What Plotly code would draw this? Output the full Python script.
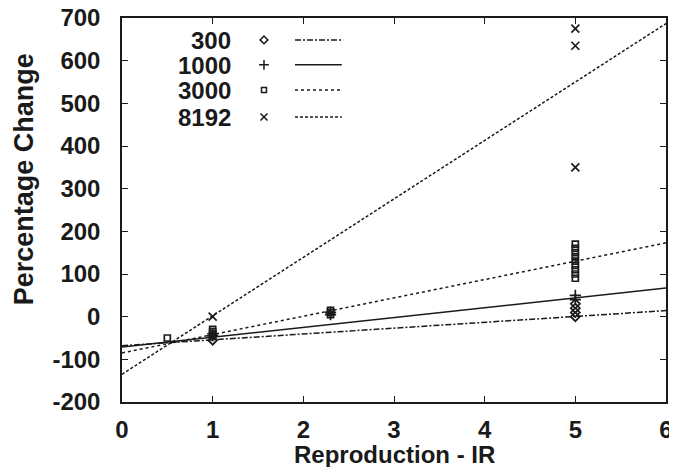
import numpy as np
import plotly.graph_objects as go

# ---- data ----
series_names = ["300", "1000", "3000", "8192"]

x_300 = [1, 5, 5, 5, 5]
y_300 = [-55, 30, 20, 10, 0]

x_1000 = [1, 1, 2.3, 2.3, 5, 5]
y_1000 = [-45, -40, 5, 10, 50, 40]

x_3000 = [0.5, 1, 1, 1, 1, 2.3, 2.3, 2.3, 5, 5, 5, 5, 5, 5, 5, 5, 5]
y_3000 = [-50, -30, -35, -40, -45, 5, 10, 15, 170, 160, 150, 140, 130, 120, 110, 100, 90]

x_8192 = [1, 5, 5, 5]
y_8192 = [0, 675, 635, 350]

fit_intercept = [-68, -71, -85, -135]
fit_slope = [13.7, 23, 43, 137]

x_ticks = [0, 1, 2, 3, 4, 5, 6]
y_ticks = [-200, -100, 0, 100, 200, 300, 400, 500, 600, 700]

# ---- styles ----
FONT = "Liberation Sans"
INK = "#1a1a1a"
symbols = ["diamond-open", "cross-thin-open", "square-open", "x-thin-open"]
msizes = [7, 8, 6, 8]
dashes = ["6px,2px,2px,2px", "solid", "3px,3px", "3px,2px"]

xs = [x_300, x_1000, x_3000, x_8192]
ys = [y_300, y_1000, y_3000, y_8192]

fig = go.Figure()
line_x = np.array([0.0, 6.0])
for i in range(4):
    fig.add_trace(go.Scatter(
        x=line_x, y=fit_intercept[i] + fit_slope[i] * line_x,
        mode="lines", line=dict(color=INK, width=1.5, dash=dashes[i]),
        showlegend=False, hoverinfo="skip"))
for i in range(4):
    fig.add_trace(go.Scatter(
        x=xs[i], y=ys[i], mode="markers",
        marker=dict(symbol=symbols[i], size=msizes[i], color=INK,
                    line=dict(color=INK, width=1.7)),
        name=series_names[i], showlegend=False))

# ---- custom legend (text, symbol, line sample) on an overlay axis ----
leg_rows = [0.943, 0.878, 0.8125, 0.742]
for i in range(4):
    fig.add_trace(go.Scatter(
        x=[0.261], y=[leg_rows[i]], xaxis="x2", yaxis="y2", mode="markers",
        marker=dict(symbol=symbols[i], size=msizes[i] - 1, color=INK,
                    line=dict(color=INK, width=1.5)),
        showlegend=False, hoverinfo="skip"))
    fig.add_trace(go.Scatter(
        x=[0.318, 0.404], y=[leg_rows[i], leg_rows[i]], xaxis="x2", yaxis="y2",
        mode="lines", line=dict(color=INK, width=1.5, dash=dashes[i]),
        showlegend=False, hoverinfo="skip"))
    fig.add_annotation(
        x=0.204, y=leg_rows[i], xref="x2", yref="y2", text=series_names[i],
        showarrow=False, xanchor="right", yanchor="middle", height=24,
        font=dict(family=FONT, size=24, color=INK, weight="bold"))

# axis titles
fig.add_annotation(
    x=0.5, y=-0.135, xref="paper", yref="paper", text="Reproduction - IR",
    showarrow=False, xanchor="center", yanchor="middle", height=26,
    font=dict(family=FONT, size=24, color=INK, weight="bold"))
fig.add_annotation(
    x=-0.18, y=0.58, xref="paper", yref="paper", text="Percentage Change",
    showarrow=False, xanchor="center", yanchor="middle", textangle=-90,
    font=dict(family=FONT, size=27, color=INK, weight="bold"))

# the page body adds an 8 px offset, so the figure is sized to end at the window edge
fig.update_layout(
    width=669, height=459,
    margin=dict(l=114, r=11, t=10, b=65, autoexpand=False),
    paper_bgcolor="white", plot_bgcolor="white",
    font=dict(family=FONT, color=INK),
    xaxis=dict(range=[0, 6], tickvals=x_ticks, ticktext=[str(v) for v in x_ticks],
               ticks="inside", ticklen=6, tickcolor=INK, mirror="ticks", automargin=False,
               showline=True, linecolor=INK, linewidth=1.5, showgrid=False, zeroline=False,
               tickfont=dict(family=FONT, size=24, color=INK, weight="bold"),
               ticklabelstandoff=5, ticklabeloverflow="allow"),
    yaxis=dict(range=[-200, 700], tickvals=y_ticks, ticktext=[str(v) for v in y_ticks],
               ticks="inside", ticklen=6, tickcolor=INK, mirror="ticks", automargin=False,
               showline=True, linecolor=INK, linewidth=1.5, showgrid=False, zeroline=False,
               tickfont=dict(family=FONT, size=24, color=INK, weight="bold"),
               ticklabelstandoff=15, ticklabeloverflow="allow"),
    xaxis2=dict(range=[0, 1], overlaying="x", visible=False, fixedrange=True),
    yaxis2=dict(range=[0, 1], overlaying="y", visible=False, fixedrange=True),
)

fig.write_html("out.html")
